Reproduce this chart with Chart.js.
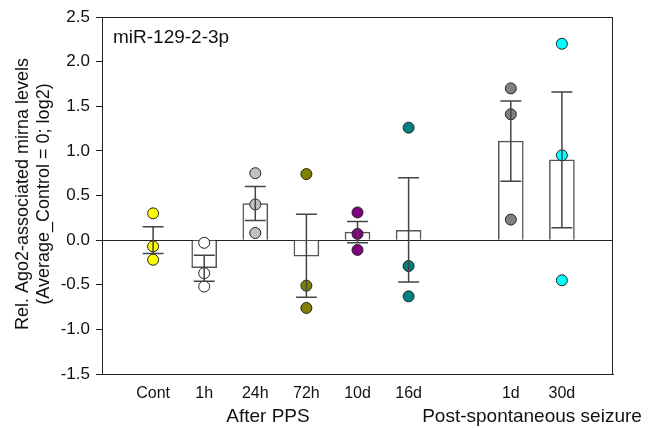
<!DOCTYPE html>
<html>
<head>
<meta charset="utf-8">
<script src="https://cdn.jsdelivr.net/npm/chart.js@4"></script>
<style>
  html, body { margin: 0; padding: 0; background: #fff; }
  #wrap { width: 652px; height: 428px; }
</style>
</head>
<body>
<div id="wrap"><canvas id="chart" width="652" height="428"></canvas></div>
<script>
const categories = ["Cont", "1h", "24h", "72h", "10d", "16d", "1d", "30d"];
const xPos = [1, 2, 3, 4, 5, 6, 8, 9];
const means = [0.00, -0.31, 0.41, -0.18, 0.09, 0.11, 1.11, 0.90];
const errHigh = [0.15, -0.17, 0.60, 0.29, 0.21, 0.70, 1.56, 1.66];
const errLow = [-0.15, -0.46, 0.22, -0.64, -0.03, -0.47, 0.66, 0.14];
const points = [
    [0.30, -0.07, -0.22],
    [-0.03, -0.37, -0.52],
    [0.75, 0.40, 0.08],
    [0.74, -0.51, -0.76],
    [0.31, 0.07, -0.11],
    [1.26, -0.29, -0.63],
    [1.70, 1.41, 0.23],
    [2.20, 0.95, -0.45]
];
const dotColors = ["#ffff00", "#ffffff", "#c0c0c0", "#808000", "#800080", "#008080", "#808080", "#00ffff"];
const groupLabels = ["After PPS", "Post-spontaneous seizure"];
const panelLabel = "miR-129-2-3p";
const yTitle = ["Rel. Ago2-associated mirna levels", "(Average_Control = 0; log2)"];

const FONT = "Arial, 'Liberation Sans', sans-serif";

let barData = xPos.map((x, i) => ({ x: x, y: means[i] }));
let dotData = [];
let dotFill = [];
points.forEach((arr, i) => {
    arr.forEach(v => {
        dotData.push({ x: xPos[i], y: v });
        dotFill.push(dotColors[i]);
    });
});

// error bars drawn on top of bars and dots
const errorBars = {
    id: "errorBars",
    afterDatasetsDraw(chart) {
        const { ctx, scales: { x, y } } = chart;
        ctx.save();
        ctx.strokeStyle = "#444";
        ctx.lineWidth = 1.5;
        xPos.forEach((xv, i) => {
            const px = x.getPixelForValue(xv);
            const hi = y.getPixelForValue(errHigh[i]);
            const lo = y.getPixelForValue(errLow[i]);
            ctx.beginPath();
            ctx.moveTo(px, hi); ctx.lineTo(px, lo);
            ctx.moveTo(px - 10.5, hi); ctx.lineTo(px + 10.5, hi);
            ctx.moveTo(px - 10.5, lo); ctx.lineTo(px + 10.5, lo);
            ctx.stroke();
        });
        ctx.restore();
    },
    afterDraw(chart) {
        const { ctx, chartArea: a } = chart;
        ctx.save();
        ctx.strokeStyle = "#222";
        ctx.lineWidth = 1;
        ctx.strokeRect(a.left + 0.5, a.top + 0.5, a.right - a.left - 1, a.bottom - a.top);

        ctx.fillStyle = "#111";
        ctx.font = "19px " + FONT;
        ctx.textAlign = "left";
        ctx.textBaseline = "middle";
        ctx.fillText(panelLabel, 113, 38);

        ctx.textAlign = "center";
        ctx.fillText(groupLabels[0], 268, 417);
        ctx.fillText(groupLabels[1], 532, 417);

        ctx.font = "18px " + FONT;
        ctx.translate(0, 194);
        ctx.rotate(-Math.PI / 2);
        ctx.fillText(yTitle[0], 0, 23);
        ctx.fillText(yTitle[1], 0, 44);
        ctx.restore();
    }
};

new Chart(document.getElementById("chart").getContext("2d"), {
    type: "bar",
    data: {
        datasets: [
            {
                type: "bar",
                data: barData,
                backgroundColor: "#ffffff",
                borderColor: "#555",
                borderWidth: 1.5,
                barThickness: 25,
                order: 2
            },
            {
                type: "scatter",
                data: dotData,
                pointBackgroundColor: dotFill,
                pointBorderColor: "#222",
                pointBorderWidth: 1,
                pointRadius: 5.5,
                order: 1
            }
        ]
    },
    options: {
        responsive: false,
        animation: false,
        layout: { padding: { top: 17, right: 39, left: 0, bottom: 0 } },
        plugins: { legend: { display: false }, tooltip: { enabled: false } },
        scales: {
            x: {
                type: "linear",
                min: 0,
                max: 10,
                offset: false,
                afterFit: s => { s.height = 54; },
                grid: { display: false, drawTicks: false, offset: false },
                border: { display: true, color: "#222", width: 1 },
                ticks: {
                    stepSize: 1,
                    autoSkip: false,
                    maxRotation: 0,
                    padding: 10,
                    color: "#111",
                    font: { family: FONT, size: 16 },
                    callback: v => {
                        const k = xPos.indexOf(v);
                        return k >= 0 ? categories[k] : "";
                    }
                }
            },
            y: {
                type: "linear",
                min: -1.5,
                max: 2.5,
                afterFit: s => { s.width = 102; },
                grid: {
                    drawOnChartArea: true,
                    color: c => (c.tick && c.tick.value === 0) ? "#222" : "rgba(0,0,0,0)",
                    tickColor: "#222",
                    tickLength: 6
                },
                border: { display: true, color: "#222", width: 1 },
                ticks: {
                    stepSize: 0.5,
                    padding: 6,
                    color: "#111",
                    font: { family: FONT, size: 17 },
                    callback: v => v.toFixed(1)
                }
            }
        }
    },
    plugins: [errorBars]
});
</script>
</body>
</html>
